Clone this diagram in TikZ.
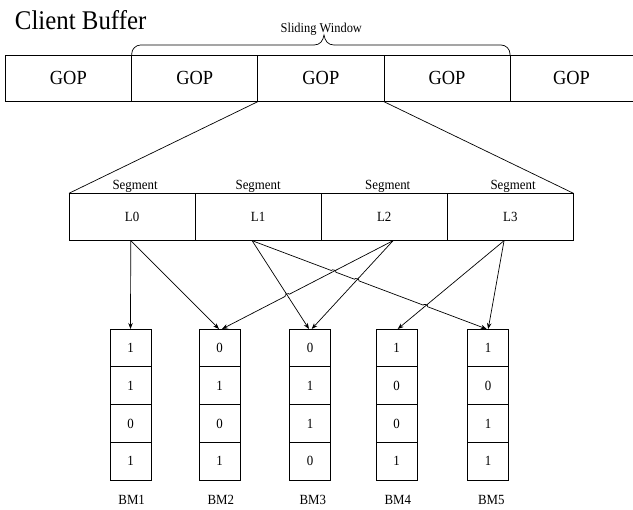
\documentclass[tikz,border=0pt]{standalone}
\usepackage{fontspec}
\setmainfont{Liberation Serif}[FakeStretch=0.92]
\usetikzlibrary{arrows.meta,calc,intersections}
\newcommand\myhop[5]{%
  \fill[white] (#1) circle (2.4pt);
  \draw ($(#1)!3pt!(#2)$) -- ($(#1)!3pt!(#3)$);
  \draw ($(#1)!2.4pt!(#4)$) to[bend left=90] ($(#1)!2.4pt!(#5)$);
}
\begin{document}
\begin{tikzpicture}[x=1pt,y=-1pt, line width=0.8pt,
  every node/.style={inner sep=0pt, outer sep=0pt},
  small/.style={font=\fontsize{14}{16}\selectfont},
  gopcell/.style={draw, minimum height=46.7pt, anchor=north west, font=\fontsize{20}{22}\selectfont},
  segcell/.style={draw, minimum width=126.1pt, minimum height=47.4pt, anchor=north west, small},
  bmcell/.style={draw, minimum width=41pt, minimum height=37.8pt, anchor=north west, small},
  arr/.style={-{Stealth[length=6pt,width=4.5pt]}, line width=0.7pt},
  thin/.style={line width=0.7pt}
]
\useasboundingbox (0,0) rectangle (633,510);

% title
\node[anchor=base west, font=\fontsize{27}{30}\selectfont] (title) at (15,30) {Client Buffer};

% GOP row
\node[gopcell, minimum width=126.7pt] (g1) at (5,55) {GOP};
\node[gopcell, minimum width=126pt] (g2) at (131.7,55) {GOP};
\node[gopcell, minimum width=126.3pt] (g3) at (257.7,55) {GOP};
\node[gopcell, minimum width=126pt] (g4) at (384,55) {GOP};
\node[gopcell, draw=none, minimum width=123pt] (g5) at (510,55) {GOP};
\draw (g5.north west) -- (g5.north east) (g5.south west) -- (g5.south east);

% sliding window brace
\coordinate (btip) at (324,35);
\coordinate (bl) at (314,45);
\coordinate (br) at (334,45);
\draw[thin, rounded corners=9pt] (g2.north west) |- (bl);
\draw[thin] (bl) .. controls (320,45) and (323,41) .. (btip) .. controls (325,41) and (328,45) .. (br);
\draw[thin, rounded corners=9pt] (br) -| (g4.north east);
\node[small, anchor=base, font=\fontsize{13.5}{15}\selectfont] (sw) at (321.3,33) {Sliding Window};

% segment row
\node[segcell, label={[small, xshift=3pt, label distance=0.6pt]above:Segment}] (s0) at (69,193.3) {L0};
\node[segcell, label={[small, label distance=0.6pt]above:Segment}] (s1) at (195.1,193.3) {L1};
\node[segcell, label={[small, xshift=3.5pt, label distance=0.6pt]above:Segment}] (s2) at (321.2,193.3) {L2};
\node[segcell, label={[small, xshift=2.7pt, label distance=0.6pt]above:Segment}] (s3) at (447.3,193.3) {L3};

\draw[thin] (g3.south west) -- (s0.north west);
\draw[thin] (g3.south east) -- (s3.north east);

% bitmaps
\foreach \c/\x/\a/\b/\cc/\d/\o in {1/110/1/1/0/1/1.2, 2/199/0/1/0/1/1.3, 3/289.7/0/1/1/0/2.6, 4/376/1/0/0/1/1.3, 5/467.7/1/0/1/1/3.1} {
  \node[bmcell] (b\c-1) at (\x,329) {\a};
  \node[bmcell, anchor=north] (b\c-2) at (b\c-1.south) {\b};
  \node[bmcell, anchor=north] (b\c-3) at (b\c-2.south) {\cc};
  \node[bmcell, anchor=north] (b\c-4) at (b\c-3.south) {\d};
  \node[small, anchor=base] (bm\c) at ($(b\c-1.north)+(\o,176)$) {BM\c};
}

% connector ends
\coordinate (o0) at ($(s0.south)+(-1.3,0)$);
\coordinate (o1) at ($(s1.south)+(-6,0)$);
\coordinate (o2) at ($(s2.south)+(8.8,0)$);
\coordinate (o3) at ($(s3.south)+(-6.3,0)$);
\coordinate (t1) at (b1-1.north);
\coordinate (t2a) at ($(b2-1.north)+(-0.5,0)$);
\coordinate (t2b) at ($(b2-1.north)+(2.5,0)$);
\coordinate (t3a) at ($(b3-1.north)+(-1.2,0)$);
\coordinate (t3b) at ($(b3-1.north)+(1.5,0)$);
\coordinate (t4) at ($(b4-1.north)+(1.2,0)$);
\coordinate (t5a) at ($(b5-1.north)+(-1.5,0)$);
\coordinate (t5b) at (b5-1.north);

\draw[arr] (o0) -- (t1);
\draw[arr] (o0) -- (t2a);
\draw[arr, name path=C] (o1) -- (t3a);
\draw[arr, name path=D] (o1) -- (t5a);
\draw[arr, name path=E] (o2) -- (t2b);
\draw[arr, name path=F] (o2) -- (t3b);
\draw[arr, name path=G] (o3) -- (t4);
\draw[arr] (o3) -- (t5b);

% line hops
\path[name intersections={of=D and E, by=x1}];
\path[name intersections={of=D and F, by=x2}];
\path[name intersections={of=D and G, by=x3}];
\path[name intersections={of=E and C, by=x4}];
\begin{scope}[line width=0.7pt]
\myhop{x1}{o2}{t2b}{o1}{t5a}
\myhop{x2}{o2}{t3b}{o1}{t5a}
\myhop{x3}{o3}{t4}{o1}{t5a}
\myhop{x4}{o1}{t3a}{t2b}{o2}
\end{scope}
\end{tikzpicture}
\end{document}
